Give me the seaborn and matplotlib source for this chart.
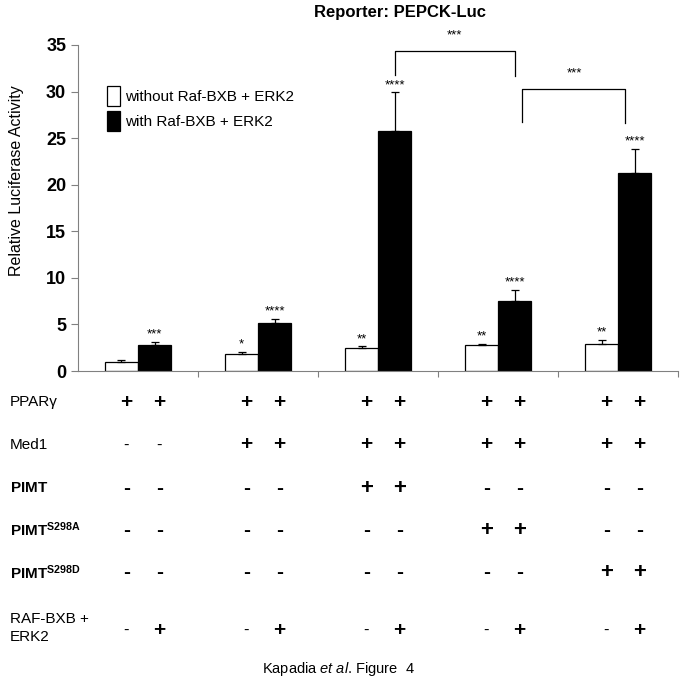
import numpy as np
import pandas as pd
import matplotlib
matplotlib.use('Agg')
import matplotlib.pyplot as plt
import matplotlib.transforms as mtransforms
from matplotlib.patches import Patch
import seaborn as sns

# data
groups = ['G1', 'G2', 'G3', 'G4', 'G5']
conditions = ['without Raf-BXB + ERK2', 'with Raf-BXB + ERK2']
without_vals = [1.0, 1.8, 2.5, 2.8, 2.9]
without_err = [0.2, 0.25, 0.15, 0.1, 0.4]
with_vals = [2.8, 5.2, 25.8, 7.5, 21.3]
with_err = [0.3, 0.4, 4.1, 1.2, 2.5]
without_stars = ['', '*', '**', '**', '**']
with_stars = ['***', '****', '****', '****', '****']

# table under the chart
row_labels = ['PPARγ', 'Med1', r'$\mathbf{PIMT}$', r'$\mathbf{PIMT^{S298A}}$',
              r'$\mathbf{PIMT^{S298D}}$', 'RAF-BXB +\nERK2']
row_signs = [
    ['+', '+', '+', '+', '+', '+', '+', '+', '+', '+'],
    ['-', '-', '+', '+', '+', '+', '+', '+', '+', '+'],
    ['-', '-', '-', '-', '+', '+', '-', '-', '-', '-'],
    ['-', '-', '-', '-', '-', '-', '+', '+', '-', '-'],
    ['-', '-', '-', '-', '-', '-', '-', '-', '+', '+'],
    ['-', '+', '-', '+', '-', '+', '-', '+', '-', '+'],
]
row_bold = [False, False, True, True, True, False]

plt.rcParams['font.family'] = ['Liberation Sans', 'DejaVu Sans']
plt.rcParams['mathtext.fontset'] = 'custom'
plt.rcParams['mathtext.rm'] = 'Liberation Sans'
plt.rcParams['mathtext.bf'] = 'Liberation Sans:bold'
plt.rcParams['mathtext.it'] = 'Liberation Sans:italic'

df = pd.DataFrame({
    'group': groups * 2,
    'cond': [conditions[0]] * 5 + [conditions[1]] * 5,
    'value': without_vals + with_vals,
})

fig = plt.figure(figsize=(6.83, 6.89), dpi=100)
ax = fig.add_axes([0.1142, 0.4615, 0.8785, 0.4732])

sns.barplot(data=df, x='group', y='value', hue='cond', hue_order=conditions,
            palette=['white', 'black'], edgecolor='black', linewidth=0.9,
            width=0.55, errorbar=None, ax=ax, legend=False)

# bar centres from the patches
bars = [p for p in ax.patches if p.get_width() > 0]
centres = {}
for p in bars:
    xc = p.get_x() + p.get_width() / 2
    fc = tuple(np.round(p.get_facecolor()[:3], 2))
    key = 'with' if fc == (0.0, 0.0, 0.0) else 'without'
    centres.setdefault(key, []).append(xc)
wo_x = sorted(centres['without'])
wi_x = sorted(centres['with'])

# error bars (upper only)
for xs, vals, errs in [(wo_x, without_vals, without_err), (wi_x, with_vals, with_err)]:
    ax.errorbar(xs, vals, yerr=[np.zeros(len(errs)), errs], fmt='none',
                ecolor='black', elinewidth=0.9, capsize=3, capthick=0.9)

# significance stars
for xs, vals, errs, stars in [(wo_x, without_vals, without_err, without_stars),
                              (wi_x, with_vals, with_err, with_stars)]:
    for x, v, e, s in zip(xs, vals, errs, stars):
        if s:
            ax.text(x, v + e + 0.15, s, ha='center', va='bottom', fontsize=9.5)

# brackets
ax.plot([wi_x[2], wi_x[2], wi_x[3], wi_x[3]], [31.8, 34.4, 34.4, 31.7],
        color='black', lw=0.9)
ax.text((wi_x[2] + wi_x[3]) / 2, 35.4, '***', ha='center', va='bottom', fontsize=9.5)
ax.plot([wi_x[3] + 0.06, wi_x[3] + 0.06, wi_x[4] - 0.08, wi_x[4] - 0.08],
        [26.7, 30.3, 30.3, 26.6], color='black', lw=0.9)
ax.text((wi_x[3] + wi_x[4]) / 2, 31.3, '***', ha='center', va='bottom', fontsize=9.5)

ax.set_ylim(0, 35)
ax.set_xlim(-0.5, 4.5)
ax.set_yticks(range(0, 36, 5))
ax.tick_params(axis='y', labelsize=13, colors='#808080', labelcolor='black',
               length=5, width=0.8)
for t in ax.get_yticklabels():
    t.set_fontweight('bold')
ax.set_xticks([])
ax.set_xticks([0.5, 1.5, 2.5, 3.5, 4.5], minor=True)
ax.tick_params(axis='x', which='minor', length=4, colors='#808080', width=0.8)
ax.set_xlabel('')
ax.set_ylabel('Relative Luciferase Activity', fontsize=11.5)
ax.yaxis.set_label_coords(-0.09, 0.585)
for side in ['top', 'right']:
    ax.spines[side].set_visible(False)
for side in ['left', 'bottom']:
    ax.spines[side].set_color('#808080')
    ax.spines[side].set_linewidth(0.8)

handles = [Patch(facecolor='white', edgecolor='black', lw=0.9),
           Patch(facecolor='black', edgecolor='black', lw=0.9)]
ax.legend(handles, conditions, loc='upper left', bbox_to_anchor=(0.025, 0.915),
          frameon=False, fontsize=11, handlelength=0.9, handleheight=1.6,
          handletextpad=0.3, labelspacing=0.35)

fig.text(0.586, 0.982, 'Reporter: PEPCK-Luc', ha='center', va='center',
         fontsize=12, fontweight='bold')

# condition table
trans = mtransforms.blended_transform_factory(ax.transData, fig.transFigure)
row_y = [402, 445, 488, 530, 573, 630]
sign_x = [x for pair in zip(wo_x, wi_x) for x in pair]
for lab, signs, yy, bold in zip(row_labels, row_signs, row_y, row_bold):
    yf = 1 - yy / 689
    if lab.startswith('RAF'):
        fig.text(10 / 683, yf + 0.003, lab, ha='left', va='center', fontsize=11,
                 linespacing=1.3)
    else:
        fig.text(10 / 683, yf, lab, ha='left', va='center', fontsize=11)
    for x, s in zip(sign_x, signs):
        if s == '+':
            ax.text(x + 0.04, yf, '+', transform=trans, ha='center', va='center',
                    fontsize=16 if bold else 15, fontweight='bold')
        else:
            ax.text(x + 0.04, yf, '-', transform=trans, ha='center', va='center',
                    fontsize=15 if bold else 12, fontweight='bold' if bold else 'normal')

fig.text(0.496, 1 - 669 / 689, r'Kapadia $et\ al$. Figure  4', ha='center',
         va='center', fontsize=10.5)

fig.savefig('out.png', dpi=100)
